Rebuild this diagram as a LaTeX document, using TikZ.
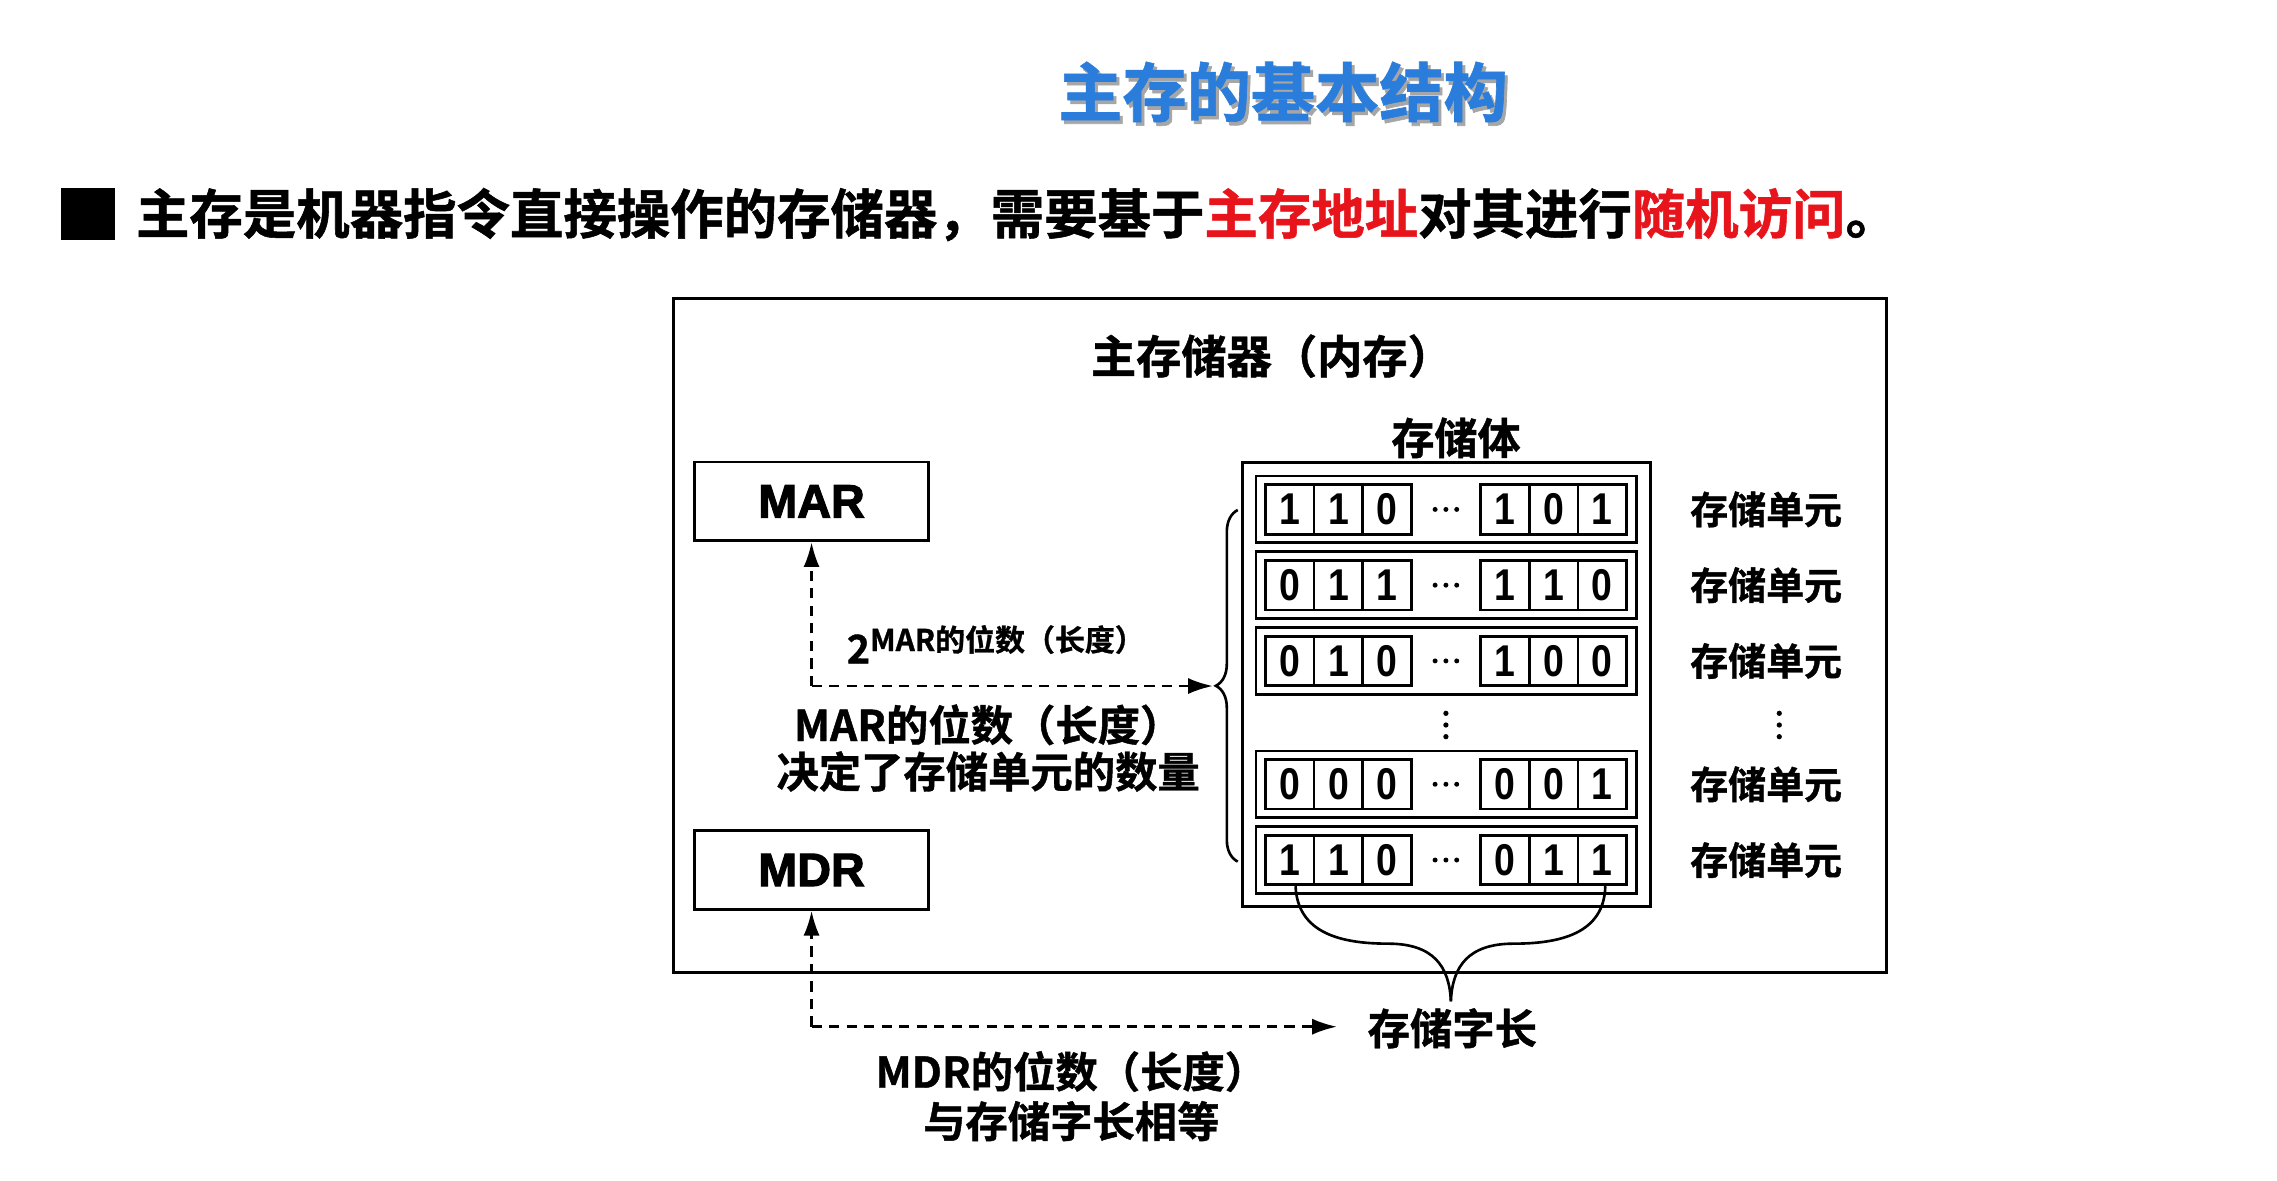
\documentclass[tikz,border=0pt]{standalone}
\usepackage{fontspec}
\setmainfont{Liberation Sans}
\newfontfamily\cjk{Noto Sans CJK SC}[UprightFont=* Bold, FakeBold=1]
\newfontfamily\digitfont{Liberation Sans}[UprightFont=* Bold, FakeStretch=0.84]
\newfontfamily\heavy{Liberation Sans}[UprightFont=* Bold, FakeBold=2.5]
\usetikzlibrary{arrows.meta,decorations.pathreplacing,calc}
\definecolor{titleblue}{RGB}{42,125,219}
\definecolor{keyred}{RGB}{232,20,28}
\begin{document}
\begin{tikzpicture}[x=1pt,y=-1pt,
  regbox/.style={draw, line width=1.9pt, minimum width=160pt, minimum height=54pt, inner sep=0pt, font={\heavy\fontsize{32}{36}\selectfont}},
  cellbox/.style={draw, line width=1.9pt, minimum width=33.4pt, minimum height=34pt, inner sep=0pt, font={\digitfont\fontsize{30.5}{34}\selectfont}},
  rowbox/.style={draw, line width=1.9pt, minimum width=260.5pt, minimum height=45.7pt, inner sep=0pt},
  lbl/.style={inner sep=0pt, align=center, font={\cjk\fontsize{29}{31}\selectfont}},
  unitlbl/.style={inner sep=0pt, font={\cjk\fontsize{26}{28}\selectfont}},
  dasharrow/.style={dash pattern=on 7pt off 5pt, line width=1.8pt, -{Latex[length=17pt,width=11pt]}},
  bracestyle/.style={line width=1.8pt}
]
\useasboundingbox (0,0) rectangle (1560,809.1);
\fill[white] (0,0) rectangle (1560,809.1);

% title
\node[inner sep=0pt, text=black!35, font={\cjk\fontsize{44}{48}\selectfont}] (titleshadow) at (881,65.5) {主存的基本结构};
\node[inner sep=0pt, text=titleblue, font={\cjk\fontsize{44}{48}\selectfont}] (title) at (879,63) {主存的基本结构};

% lead line
\node[fill=black, minimum width=37pt, minimum height=35.5pt, inner sep=0pt] (bullet) at (60.5,146.8) {};
\node[anchor=west, inner sep=0pt, font={\cjk\fontsize{36.6}{40}\selectfont}] (lead) at (93,147)
  {主存是机器指令直接操作的存储器，需要基于\textcolor{keyred}{主存地址}对其进行\textcolor{keyred}{随机访问}。};

% main memory frame
\node[draw, line width=2.2pt, minimum width=831pt, minimum height=462pt, inner sep=0pt] (mem) at (876.75,435.5) {};
\node[inner sep=0pt, font={\cjk\fontsize{31}{33}\selectfont}] (memtitle) at (871.4,244) {主存储器（内存）};

% registers
\node[regbox] (mar) at (556,343.5) {MAR};
\node[regbox] (mdr) at (556,596) {MDR};

% storage body
\node[inner sep=0pt, font={\cjk\fontsize{29.5}{31}\selectfont}] (bodytitle) at (997.5,300) {存储体};
\node[draw, line width=1.9pt, minimum width=279pt, minimum height=304pt, inner sep=0pt] (body) at (991,469.1) {};

\foreach \r/\y/\a/\b/\c/\d/\e/\f in {1/349/1/1/0/1/0/1, 2/400.9/0/1/1/1/1/0, 3/452.8/0/1/0/1/0/0, 4/537.3/0/0/0/0/0/1, 5/589.2/1/1/0/0/1/1}{
  \node[rowbox] (row\r) at (990.7,\y) {};
  \node[cellbox] (r\r-c1) at (883.6,\y) {\a};
  \node[cellbox] (r\r-c2) at (917,\y) {\b};
  \node[cellbox] (r\r-c3) at (950.4,\y) {\c};
  \node[cellbox] (r\r-c4) at (1031,\y) {\d};
  \node[cellbox] (r\r-c5) at (1064.4,\y) {\e};
  \node[cellbox] (r\r-c6) at (1097.8,\y) {\f};
  \foreach \dx in {-7.4,0,7.4}{\fill (990.6+\dx,\y) circle (1.7);}
  \node[unitlbl] (u\r) at (1210,\y) {存储单元};
}
% vertical ellipses
\foreach \yy in {488.7,496.7,504.7}{
  \fill (990.6,\yy) circle (1.8);
  \fill (1219,\yy) circle (1.8);
}

% left brace
\draw[bracestyle, decorate, decoration={brace, amplitude=15pt}] (848,590.3) -- (848,349.4);
\coordinate (btip) at (831,470);

% MAR arrows
\coordinate (c1) at (556,470);
\draw[dasharrow] (c1) -- (mar.south);
\draw[dasharrow] (c1) -- (btip);
\node[anchor=base west, inner sep=0pt, font={\cjk\fontsize{27}{30}\selectfont}] (exp) at (580,454.5)
  {2\raisebox{8.5pt}{\fontsize{20.5}{24}\selectfont MAR的位数（长度）}};
\node[lbl] (marnote) at (677,512.5) {MAR的位数（长度）\\[1pt]决定了存储单元的数量};

% bottom brace (word length)
\coordinate (wtip) at (994,686);
\draw[bracestyle] ([xshift=4pt]r5-c1.south) .. controls (889,640) and (920,646.5) .. (951,646.5)
  .. controls (982,646.5) and (993,662) .. (wtip);
\draw[bracestyle] ([xshift=2pt]r5-c6.south) .. controls (1099,640) and (1068,646.5) .. (1037,646.5)
  .. controls (1006,646.5) and (995,662) .. (wtip);
\node[lbl] (wlen) at (995,704.5) {存储字长};

% MDR arrows
\coordinate (c2) at (556,703.4);
\coordinate (e2) at (916,703.4);
\draw[dasharrow] (c2) -- (mdr.south);
\draw[dasharrow] (c2) -- (e2);
\node[lbl] (mdrnote) at (734,751) {MDR的位数（长度）\\[3pt]与存储字长相等};
\end{tikzpicture}
\end{document}
